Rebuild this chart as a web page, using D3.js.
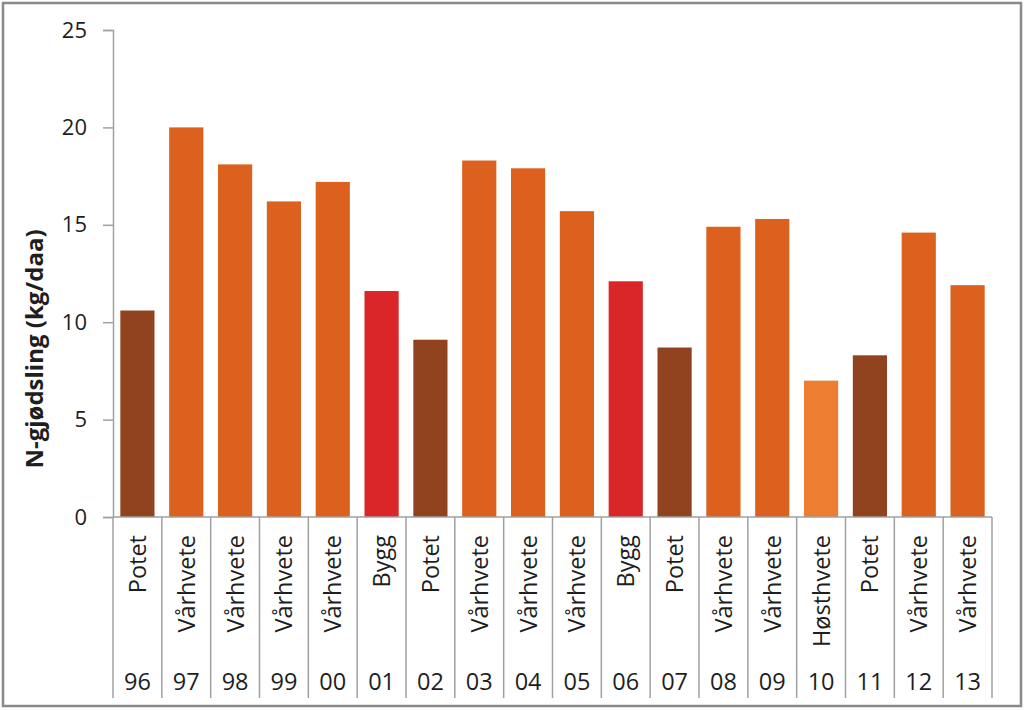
<!DOCTYPE html>
<html>
<head>
<meta charset="utf-8">
<script src="https://cdn.jsdelivr.net/npm/d3@7"></script>
<style>
  html, body { margin: 0; padding: 0; background: #ffffff; }
  svg { display: block; }
  text { font-family: "Open Sans", sans-serif; fill: #1e1e1e; }
</style>
</head>
<body>
<svg id="chart" width="1024" height="710"></svg>
<script>
const years = ["96","97","98","99","00","01","02","03","04","05","06","07","08","09","10","11","12","13"];
const crops = ["Potet","Vårhvete","Vårhvete","Vårhvete","Vårhvete","Bygg","Potet","Vårhvete","Vårhvete","Vårhvete","Bygg","Potet","Vårhvete","Vårhvete","Høsthvete","Potet","Vårhvete","Vårhvete"];
const values = [10.6, 20.0, 18.1, 16.2, 17.2, 11.6, 9.1, 18.3, 17.9, 15.7, 12.1, 8.7, 14.9, 15.3, 7.0, 8.3, 14.6, 11.9];
const yTicks = [0, 5, 10, 15, 20, 25];
const cropNames = ["Potet", "Vårhvete", "Bygg", "Høsthvete"];
const cropColors = ["#91431f", "#dc601e", "#da2529", "#ed7d31"];
const yTitle = "N-gjødsling (kg/daa)";

const svg = d3.select("#chart");

// outer frame
svg.append("rect")
  .attr("x", 3).attr("y", 3).attr("width", 1018).attr("height", 703)
  .attr("fill", "#ffffff").attr("stroke", "#8a8a8a").attr("stroke-width", 2.5);

const x = d3.scaleBand().domain(years).range([113, 992]).paddingInner(0.3).paddingOuter(0.15);
const y = d3.scaleLinear().domain([0, 25]).range([517, 30]);
const color = d3.scaleOrdinal().domain(cropNames).range(cropColors);

const data = years.map((yr, i) => ({ year: yr, crop: crops[i], value: values[i] }));

// bars
svg.append("g").selectAll("rect").data(data).join("rect")
  .attr("x", d => x(d.year))
  .attr("y", d => y(d.value))
  .attr("width", x.bandwidth())
  .attr("height", d => y(0) - y(d.value))
  .attr("fill", d => color(d.crop));

// y axis
const yAxis = d3.axisLeft(y).tickValues(yTicks).tickSize(10).tickPadding(16).tickFormat(d3.format("d"));
const gy = svg.append("g").attr("transform", "translate(113,0)").call(yAxis);
gy.select(".domain").attr("stroke", "#a0a0a0").attr("stroke-width", 1.5);
gy.selectAll(".tick line").attr("stroke", "#a0a0a0").attr("stroke-width", 1.5);
gy.selectAll(".tick text").attr("font-size", 22).attr("fill", "#1e1e1e")
  .attr("font-family", "'Open Sans', sans-serif");

// x axis baseline
const step = x.step();
const x0 = x.range()[0];
svg.append("line").attr("x1", x0).attr("x2", x.range()[1]).attr("y1", y(0)).attr("y2", y(0))
  .attr("stroke", "#a0a0a0").attr("stroke-width", 1.5);

// category separators
const seps = d3.range(years.length + 1);
svg.append("g").selectAll("line").data(seps).join("line")
  .attr("x1", i => x0 + i * step).attr("x2", i => x0 + i * step)
  .attr("y1", y(0)).attr("y2", 698)
  .attr("stroke", "#a0a0a0").attr("stroke-width", 1.5);

// crop labels (rotated)
svg.append("g").selectAll("text").data(data).join("text")
  .attr("transform", d => `translate(${x(d.year) + x.bandwidth() / 2},535) rotate(-90)`)
  .attr("text-anchor", "end")
  .attr("dy", "0.36em")
  .attr("font-size", 23.5)
  .text(d => d.crop);

// year labels
svg.append("g").selectAll("text").data(data).join("text")
  .attr("x", d => x(d.year) + x.bandwidth() / 2)
  .attr("y", 690)
  .attr("text-anchor", "middle")
  .attr("font-size", 23.5)
  .text(d => d.year);

// y title
svg.append("text")
  .attr("transform", "translate(43,349) rotate(-90)")
  .attr("text-anchor", "middle")
  .attr("font-size", 24)
  .attr("font-weight", "bold")
  .text(yTitle);
</script>
</body>
</html>
